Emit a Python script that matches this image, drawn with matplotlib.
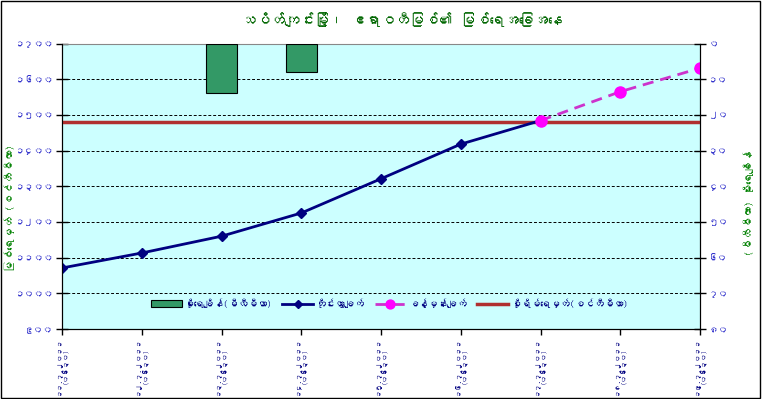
import numpy as np
import matplotlib
matplotlib.use("Agg")
import matplotlib.pyplot as plt
from matplotlib import font_manager, ft2font
from matplotlib.patches import Rectangle

# Data
dates = ["၁၁.၇.၂၀၁၁", "၁၂.၇.၂၀၁၁", "၁၃.၇.၂၀၁၁", "၁၄.၇.၂၀၁၁", "၁၅.၇.၂၀၁၁",
         "၁၆.၇.၂၀၁၁", "၁၇.၇.၂၀၁၁", "၁၈.၇.၂၀၁၁", "၁၉.၇.၂၀၁၁"]
obs_time = "(၀၆း၃၀)"
observed = [1071, 1113, 1160, 1225, 1321, 1418, 1484, np.nan, np.nan]
forecast = [np.nan, np.nan, np.nan, np.nan, np.nan, np.nan, 1484, 1565, 1631]
rainfall = [0, 0, 14, 8, 0, 0, 0, 0, 0]
danger_level = 1480

left_ticks = [900, 1000, 1100, 1200, 1300, 1400, 1500, 1600, 1700]
right_ticks = [0, 10, 20, 30, 40, 50, 60, 70, 80]

title = "သပိတ်ကျင်းမြို့၊ ဧရာဝတီမြစ်၏ မြစ်ရေအခြေအနေ"
left_label = "မြစ်ရေမှတ် (စင်တီမီတာ)"
right_label = "(မီလီမီတာ) မိုးရေချိန်"
lbl_rain = "မိုးရေချိန်(မီလီမီတာ)"
lbl_obs = "တိုင်းထွာချက်"
lbl_fc = "ခန့်မှန်းချက်"
lbl_danger = "စိုးရိမ်ရေမှတ်(စင်တီမီတာ)"

my_digits = "၀၁၂၃၄၅၆၇၈၉"


def to_my(n):
    return "".join(my_digits[int(c)] for c in str(n))


# pick any font that can draw Myanmar script, fall back to DejaVu
def find_myanmar_font():
    for f in font_manager.fontManager.ttflist:
        try:
            if 0x1000 in ft2font.FT2Font(f.fname).get_charmap():
                return f.name
        except Exception:
            pass
    return None


mm_font = find_myanmar_font()
families = [mm_font, "DejaVu Sans"] if mm_font else ["DejaVu Sans"]
plt.rcParams["font.family"] = families

navy = "#000080"
tick_blue = "#3333CC"
green = "#008000"

fig = plt.figure(figsize=(7.62, 3.99), dpi=100)
ax = fig.add_axes([62 / 762, 1 - 329 / 399, 638 / 762, 285.5 / 399])
ax.set_facecolor("#CCFFFF")

x = np.arange(len(dates))
ax.plot(x, observed, color=navy, lw=2, marker="D", ms=5, label=lbl_obs, zorder=4)
ax.plot(x, forecast, color="#CC33CC", lw=2, ls=(0, (4, 2.5)), marker="o", ms=8,
        mfc="#FF00FF", mec="#FF00FF", label=lbl_fc, zorder=5)
ax.axhline(danger_level, color="#B03030", lw=2.5, label=lbl_danger, zorder=3)

ax.set_xlim(0, len(dates) - 1)
ax.set_ylim(900, 1700)
ax.set_yticks(left_ticks)
ax.set_yticklabels([to_my(v) for v in left_ticks], color=tick_blue, fontsize=7)
ax.set_xticks(x)
ax.set_xticklabels([d + "\n" + obs_time for d in dates], rotation=90,
                   color=navy, fontsize=5.2, ha="center", va="top", linespacing=1.0)
ax.grid(axis="y", color="black", ls=(0, (3, 2)), lw=0.7)
ax.tick_params(axis="y", direction="inout", length=8, width=1, pad=2)
ax.tick_params(axis="x", direction="out", length=4, width=1, pad=2)
ax.spines["top"].set_color("#888888")

# rainfall bars hang from the top on an inverted right axis
ax2 = ax.twinx()
rain = np.array(rainfall, dtype=float)
has_rain = rain > 0
ax2.bar(x[has_rain], rain[has_rain], width=0.39, color="#339966",
        edgecolor="black", lw=0.8, label=lbl_rain, zorder=2)
ax2.set_ylim(80, 0)
ax2.set_yticks(right_ticks)
ax2.set_yticklabels([to_my(v) for v in right_ticks], color=tick_blue, fontsize=7)
ax2.tick_params(axis="y", direction="inout", length=8, width=1, pad=2)
ax2.spines["top"].set_visible(False)

fig.text(402 / 762, 1 - 20 / 399, title, ha="center", va="center",
         color="#006600", fontsize=10.5, fontweight="bold")
fig.text(10 / 762, 1 - 208 / 399, left_label, rotation=90, ha="center", va="center",
         color=green, fontsize=8)
fig.text(748 / 762, 1 - 203 / 399, right_label, rotation=90, ha="center", va="center",
         color=green, fontsize=8)

h1, l1 = ax2.get_legend_handles_labels()
h2, l2 = ax.get_legend_handles_labels()
leg = ax2.legend(h1 + h2, l1 + l2, loc="center", bbox_to_anchor=(0.513, 0.091),
                 ncol=4, frameon=False, fontsize=7, handlelength=3.2,
                 columnspacing=1.0, handletextpad=0.3, markerscale=0.8)
for t in leg.get_texts():
    t.set_color(navy)

fig.patches.append(Rectangle((0.001, 0.003), 0.996, 0.994, transform=fig.transFigure,
                             fill=False, edgecolor="black", lw=1))

fig.savefig("out.png", dpi=100)
